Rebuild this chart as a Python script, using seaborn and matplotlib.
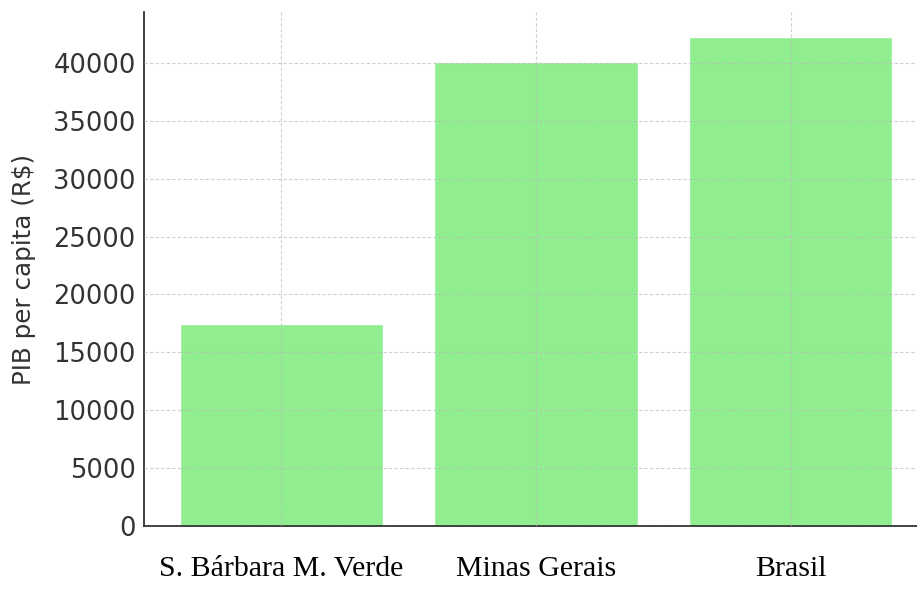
import matplotlib
matplotlib.use("Agg")
import matplotlib.pyplot as plt
import seaborn as sns
import pandas as pd

# data
locais = ["S. Bárbara M. Verde", "Minas Gerais", "Brasil"]
pib_per_capita = [17400, 40100, 42200]
y_ticks = [0, 5000, 10000, 15000, 20000, 25000, 30000, 35000, 40000]

df = pd.DataFrame({"Local": locais, "PIB": pib_per_capita})

sns.set_style("white")
plt.rcParams["font.family"] = ["DejaVu Sans"]

fig = plt.figure(figsize=(9.17, 6.01), dpi=100)
ax = fig.add_axes([0.157, 0.125, 0.855, 0.855])

sns.barplot(data=df, x="Local", y="PIB", color="#90EE90", saturation=1,
            width=0.8, ax=ax)

ax.set_xlim(-0.54, 2.54)
ax.set_ylim(0, 44400)
ax.set_yticks(y_ticks)
ax.set_xlabel("")
ax.set_ylabel("PIB per capita (R$)", fontsize=17.7, color="#333333", labelpad=12)

# grid drawn over the bars
ax.set_axisbelow(False)
ax.grid(True, linestyle=(0, (3, 2)), color="#bbbbbb", linewidth=0.8, alpha=0.7)

for s in ["top", "right"]:
    ax.spines[s].set_visible(False)
for s in ["left", "bottom"]:
    ax.spines[s].set_color("#333333")
    ax.spines[s].set_linewidth(1.3)

ax.tick_params(axis="y", direction="in", length=5, width=1.2, color="#333333",
               labelsize=18.5, labelcolor="#333333", pad=6)
ax.tick_params(axis="x", direction="in", length=5, width=1.2, color="#333333",
               pad=21.5)
for lab in ax.get_xticklabels():
    lab.set_fontfamily(["Liberation Serif", "DejaVu Serif"])
    lab.set_fontsize(21.5)
    lab.set_color("black")

fig.savefig("out.png", dpi=100)
